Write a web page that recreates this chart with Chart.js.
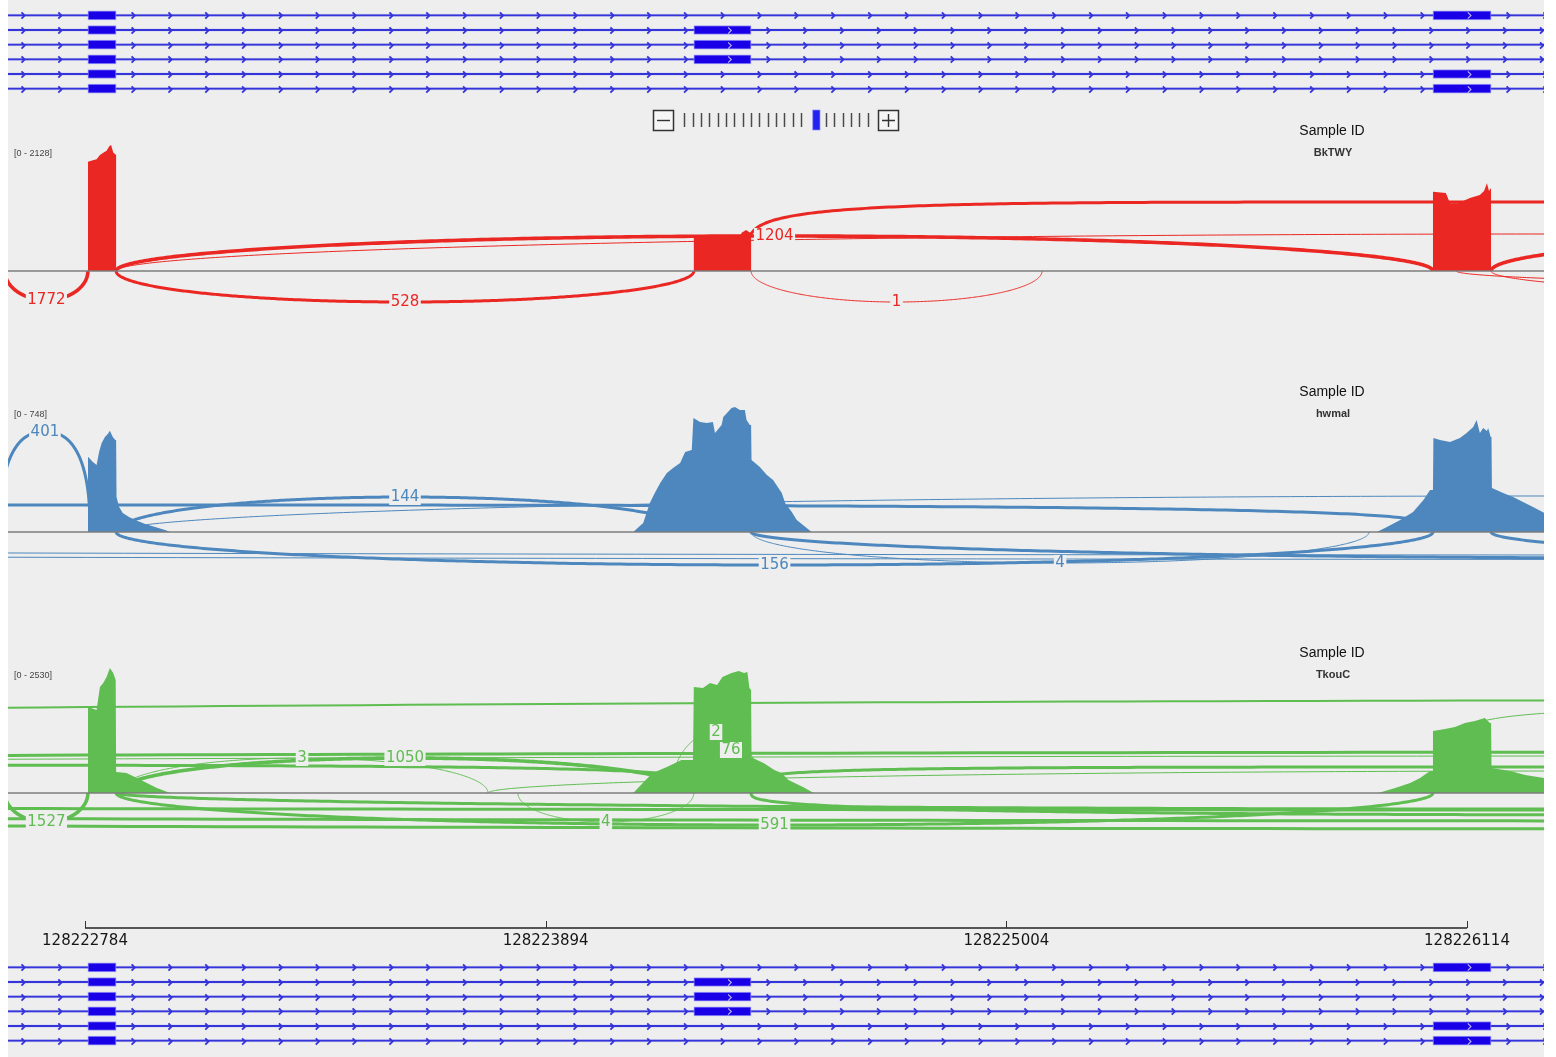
<!DOCTYPE html>
<html>
<head>
<meta charset="utf-8">
<title>Sashimi plot</title>
<script src="https://cdn.jsdelivr.net/npm/chart.js@4.4.1/dist/chart.umd.min.js"></script>
<style>
  html, body { margin: 0; padding: 0; background: #ffffff; }
  #stage { position: absolute; left: 8px; top: 0; width: 1536px; height: 1057px; background: #edeeed; overflow: hidden; }
  #stage canvas { position: absolute; left: 0; }
</style>
</head>
<body>
<div id="stage">
  <canvas id="txTop" width="1536" height="88" style="top:8px"></canvas>
  <canvas id="panel0" width="1536" height="240" style="top:100px"></canvas>
  <canvas id="panel1" width="1536" height="260" style="top:340px"></canvas>
  <canvas id="panel2" width="1536" height="300" style="top:600px"></canvas>
  <canvas id="axis" width="1536" height="60" style="top:900px"></canvas>
  <canvas id="txBottom" width="1536" height="88" style="top:960px"></canvas>
</div>
<script>
// ---------- genomic window and ruler ----------
const VIEW_START = 128222598.5;
const VIEW_END = 128226299.5;
const axisTicks = [128222784, 128223894, 128225004, 128226114];

// ---------- annotation: exons and the transcripts that use them ----------
const exonStart = [128222791, 128224251, 128226032];
const exonEnd   = [128222859, 128224389, 128226172];
const transcriptExons = [[0, 2], [0, 1], [0, 1], [0, 1], [0, 2], [0, 2]];

// ---------- samples ----------
const sampleIds = ['BkTWY', 'hwmal', 'TkouC'];
const rangeMax = [2128, 748, 2530];

// coverage, sample BkTWY
const covPosBkTWY = [
  128222791,128222791,128222801,128222812,128222820,128222828,128222836,128222843,128222847,128222852,128222859,128222859,
  128224251,128224251,128224314,128224362,128224367,128224377,128224384,128224389,128224389,
  128226032,128226032,128226063,128226073,128226092,128226121,128226145,128226155,128226162,128226167,128226172,128226172];
const covDepthBkTWY = [
  0,1846,1866,1886,1959,1998,2032,2111,2128,2000,1959,0,
  0,580,585,595,650,692,660,640,0,
  0,1339,1317,1143,1143,1233,1283,1351,1481,1351,1402,0];

// coverage, sample hwmal
const covPosHwmal = [
  128222791,128222791,128222803,128222812,128222818,128222824,128222832,128222839,128222844,128222851,128222857,128222859,128222860,128222866,128222875,128222890,128222905,128222929,128222953,128222977,128222989,
  128224105,128224129,128224145,128224157,128224170,128224186,128224201,128224218,128224230,128224246,128224250,128224266,128224282,128224297,128224302,128224318,128224322,128224342,128224350,128224362,128224374,128224378,128224386,128224389,128224390,128224410,128224427,128224442,128224463,128224471,128224487,128224499,128224514,128224535,
  128225897,128225921,128225953,128225984,128226009,128226025,128226032,128226033,128226049,128226073,128226097,128226113,128226129,128226137,128226145,128226153,128226162,128226165,128226171,128226173,128226174,128226201,128226225,128226249,128226273,128226300,128226330];
const covDepthHwmal = [
  0,447,416,398,475,527,564,582,601,564,546,546,208,150,113,89,71,47,30,12,0,
  0,53,172,232,291,350,380,410,475,487,677,653,647,653,588,635,683,736,742,724,724,665,635,635,427,386,338,309,232,172,119,71,42,0,
  0,30,71,119,190,249,249,558,546,534,558,588,623,665,588,617,600,617,564,564,261,232,208,178,148,113,90];

// coverage, sample TkouC
const covPosTkouC = [
  128222791,128222791,128222812,128222820,128222828,128222836,128222844,128222852,128222858,128222859,128222861,128222884,128222909,128222933,128222957,128222989,
  128224105,128224135,128224152,128224186,128224221,128224249,128224251,128224273,128224290,128224307,128224320,128224342,128224359,128224372,128224380,128224385,128224389,128224390,128224393,128224419,128224445,128224462,128224479,128224514,128224540,
  128225900,128225941,128225977,128226001,128226025,128226031,128226032,128226061,128226085,128226109,128226133,128226157,128226169,128226172,128226173,128226218,128226254,128226300,128226330];
const covDepthTkouC = [
  0,1727,1667,2128,2209,2329,2510,2410,2269,422,422,402,301,201,100,0,
  0,261,402,522,663,663,2128,2108,2209,2169,2329,2410,2450,2410,2430,2108,2068,703,703,602,462,402,261,120,0,
  0,100,201,301,442,442,1245,1285,1325,1406,1446,1506,1406,1406,502,442,361,301,280];

// splice junctions (donor, acceptor, read count)
const juncStartBkTWY = [128222591,128222859,128224389,128222859,128222859,128224380,128226172,128226088,128226172];
const juncEndBkTWY   = [128222791,128224251,128225090,128226032,128229808,128228844,128228362,128231013,128229808];
const juncCountBkTWY = [1772,528,1,1204,3,900,1000,2,2];

const juncStartHwmal = [128222579,128222859,128218483,128222859,128226172,128222859,128224389,128224389,128226172,128216555,128215350];
const juncEndHwmal   = [128222796,128224251,128226032,128229808,128228844,128226032,128225878,128228844,128229808,128237037,128239446];
const juncCountHwmal = [401,144,250,5,150,156,4,300,200,3,2];

const juncStartTkouC = [128222591,128222859,128222859,128223755,128215350,128215350,128216555,128216555,128224389,128222859,128223827,128215350,128215350,128222859,128224389,128216555,128224196,128224266,128226073];
const juncEndTkouC   = [128222791,128224251,128223755,128229085,128239446,128239446,128237037,128224251,128229808,128226032,128224251,128239446,128239446,128229808,128229808,128237037,128224413,128224415,128230290];
const juncCountTkouC = [1527,1050,3,2,60,800,4,500,500,591,4,700,900,500,400,300,2,76,5];

// arc drawing layout: side (+1 above the axis, -1 below), apex lift in px, curve squareness
const arcSideBkTWY  = [-1,-1,-1, 1, 1, 1, 1,-1,-1];
const arcLiftBkTWY  = [29,31,31,35,37,69,35,18,30];
const arcShapeBkTWY = [2,2,2,2,2,6,2,2,2];

const arcSideHwmal  = [1,1,1,1,1,-1,-1,-1,-1,-1,-1];
const arcLiftHwmal  = [100,35,27,36,30,33,31,26,28,23,27.5];
const arcShapeHwmal = [2.5,2,4,2,2,2,2,2,2,2,2];

const arcSideTkouC  = [-1,1,1,1,1,1,1,1,1,-1,-1,-1,-1,-1,-1,-1,1,1,1];
const arcLiftTkouC  = [29,35,35,22,93,41,37,28,26,32,29,28,36,16,22,17,61,43,85];
const arcShapeTkouC = [2,2,2,2,2,2,2,6,6,2,2,2,2,2,3,2,2,2,8];

// ---------- styling ----------
const PANEL_BG = '#edeeed';
const sampleColors = ['#eb2723', '#4d87bd', '#5fbd51'];
const EXON_COLOR = '#1a00e6';
const INTRON_COLOR = '#3434d8';
const COVERAGE_PX = 126;            // height of the full data range
const panelLayout = [
  { canvas: 'panel0', top: 100, height: 240, base: 271 },
  { canvas: 'panel1', top: 340, height: 260, base: 532 },
  { canvas: 'panel2', top: 600, height: 300, base: 793 }
];

const samples = [
  { pos: covPosBkTWY, depth: covDepthBkTWY, js: juncStartBkTWY, je: juncEndBkTWY, jc: juncCountBkTWY, side: arcSideBkTWY, lift: arcLiftBkTWY, shape: arcShapeBkTWY },
  { pos: covPosHwmal, depth: covDepthHwmal, js: juncStartHwmal, je: juncEndHwmal, jc: juncCountHwmal, side: arcSideHwmal, lift: arcLiftHwmal, shape: arcShapeHwmal },
  { pos: covPosTkouC, depth: covDepthTkouC, js: juncStartTkouC, je: juncEndTkouC, jc: juncCountTkouC, side: arcSideTkouC, lift: arcLiftTkouC, shape: arcShapeTkouC }
];

const baseOptions = {
  responsive: false,
  animation: false,
  events: [],
  layout: { padding: 0 },
  plugins: { legend: { display: false }, tooltip: { enabled: false } }
};

function chevron(ctx, cx, cy, color, w) {
  ctx.strokeStyle = color;
  ctx.lineWidth = w;
  ctx.beginPath();
  ctx.moveTo(cx - 1.8, cy - 3.2);
  ctx.lineTo(cx + 1.4, cy);
  ctx.lineTo(cx - 1.8, cy + 3.2);
  ctx.stroke();
}

// ---------- transcript tracks ----------
const strandPlugin = {
  id: 'strandMarks',
  afterDatasetsDraw(chart) {
    const { ctx, chartArea: a, scales: { x, y } } = chart;
    ctx.save();
    ctx.beginPath(); ctx.rect(a.left, a.top, a.width, a.height); ctx.clip();
    transcriptExons.forEach((exons, r) => {
      const cy = Math.round(y.getPixelForValue(r)) + 0.5;
      const spans = exons.map(e => [x.getPixelForValue(exonStart[e]), x.getPixelForValue(exonEnd[e])]).sort((p, q) => p[0] - q[0]);
      const segs = [];
      let s0 = a.left - 2;
      spans.forEach(s => { segs.push([s0, s[0]]); s0 = s[1]; });
      segs.push([s0, a.right + 40]);
      segs.forEach(([p0, p1]) => {
        for (let cx = p0 + 17.3; cx < p1 - 4; cx += 36.83) chevron(ctx, cx, cy, INTRON_COLOR, 1.8);
      });
      exons.forEach(e => {
        if (e === 0) return;
        const x0 = x.getPixelForValue(exonStart[e]), x1 = x.getPixelForValue(exonEnd[e]);
        chevron(ctx, x0 + (x1 - x0) * 0.63, cy, 'rgba(255,255,255,0.7)', 1.1);
      });
    });
    ctx.restore();
  }
};

function transcriptChart(id) {
  const rows = transcriptExons.map((_, i) => 'T' + (i + 1));
  const exonSets = exonStart.map((s, e) => ({
    data: transcriptExons.map(list => list.includes(e) ? [exonStart[e], exonEnd[e]] : null),
    backgroundColor: EXON_COLOR,
    borderColor: 'rgba(140,140,255,0.85)',
    borderWidth: 1,
    borderSkipped: false,
    barThickness: 9,
    grouped: false,
    order: 0
  }));
  const intronSet = {
    data: transcriptExons.map(() => [VIEW_START - 500, VIEW_END + 500]),
    backgroundColor: INTRON_COLOR,
    borderColor: 'rgba(120,120,240,0.45)',
    borderWidth: 0.6,
    borderSkipped: false,
    barThickness: 2.4,
    grouped: false,
    order: 1
  };
  return new Chart(document.getElementById(id), {
    type: 'bar',
    data: { labels: rows, datasets: [...exonSets, intronSet] },
    options: {
      ...baseOptions,
      indexAxis: 'y',
      scales: {
        x: { type: 'linear', min: VIEW_START, max: VIEW_END, display: false },
        y: { type: 'category', display: false, offset: true }
      }
    },
    plugins: [strandPlugin]
  });
}

// ---------- sashimi panels ----------
function arcPath(ctx, x1, x2, base, dir, lift, n) {
  const N = 320;
  ctx.beginPath();
  for (let k = 0; k <= N; k++) {
    const u = (1 - Math.cos(Math.PI * k / N)) / 2;
    const px = x1 + (x2 - x1) * u;
    const h = lift * Math.pow(Math.max(0, 1 - Math.pow(Math.abs(2 * u - 1), n)), 1 / n);
    const py = base - dir * h;
    if (k === 0) ctx.moveTo(px, py); else ctx.lineTo(px, py);
  }
  ctx.stroke();
}

function arcWidth(count) {
  if (count >= 1000) return 3.6;
  if (count >= 100) return 3;
  return count >= 50 ? 2 : 1;
}

function sashimiPlugin(idx) {
  const s = samples[idx];
  const color = sampleColors[idx];
  return {
    id: 'sashimi' + idx,
    beforeDatasetsDraw(chart) {
      const { ctx, chartArea: a, scales: { x, y } } = chart;
      const base = y.getPixelForValue(0);
      ctx.save();
      ctx.beginPath(); ctx.rect(a.left, a.top, a.width, a.height); ctx.clip();
      ctx.strokeStyle = color;
      ctx.lineJoin = 'round';
      s.js.forEach((st, i) => {
        ctx.lineWidth = arcWidth(s.jc[i]);
        arcPath(ctx, x.getPixelForValue(st), x.getPixelForValue(s.je[i]), base, s.side[i], s.lift[i], s.shape[i]);
      });
      ctx.restore();
    },
    afterDatasetsDraw(chart) {
      const { ctx, chartArea: a, scales: { x, y } } = chart;
      const base = y.getPixelForValue(0);
      ctx.save();
      // zero line
      ctx.strokeStyle = '#7d7d7d';
      ctx.lineWidth = 1.5;
      ctx.beginPath(); ctx.moveTo(a.left, base); ctx.lineTo(a.right, base); ctx.stroke();
      // junction read counts at the arc apex
      ctx.font = '15px "DejaVu Sans", sans-serif';
      ctx.textAlign = 'center';
      ctx.textBaseline = 'middle';
      s.js.forEach((st, i) => {
        const mx = (x.getPixelForValue(st) + x.getPixelForValue(s.je[i])) / 2;
        if (mx < a.left + 4 || mx > a.right - 4) return;
        const ly = base - s.side[i] * s.lift[i];
        const txt = String(s.jc[i]);
        const w = ctx.measureText(txt).width;
        ctx.fillStyle = PANEL_BG;
        ctx.fillRect(mx - w / 2 - 1.5, ly - 8, w + 3, 16);
        ctx.fillStyle = color;
        ctx.fillText(txt, mx, ly + 0.5);
      });
      ctx.restore();
    },
    afterDraw(chart) {
      const { ctx, scales: { y } } = chart;
      const base = y.getPixelForValue(0);
      ctx.save();
      ctx.textBaseline = 'middle';
      ctx.textAlign = 'center';
      ctx.fillStyle = '#111';
      ctx.font = '14px "Liberation Sans", Arial, sans-serif';
      ctx.fillText('Sample ID', 1324, base - 140);
      ctx.fillStyle = '#333';
      ctx.font = 'bold 11px "Liberation Sans", Arial, sans-serif';
      ctx.fillText(sampleIds[idx], 1325, base - 118);
      ctx.textAlign = 'left';
      ctx.fillStyle = '#444';
      ctx.font = '9px "Liberation Sans", Arial, sans-serif';
      ctx.fillText('[0 - ' + rangeMax[idx] + ']', 6, base - 117);
      ctx.restore();
    }
  };
}

// zoom slider shown above the first panel
const zoomWidget = {
  id: 'zoomWidget',
  afterDraw(chart) {
    const ctx = chart.ctx;
    ctx.save();
    const box = (x0, sign) => {
      ctx.fillStyle = '#f6f6f6';
      ctx.fillRect(x0, 10, 20, 20);
      ctx.strokeStyle = '#333';
      ctx.lineWidth = 1.5;
      ctx.strokeRect(x0 + 0.5, 10.5, 20, 20);
      ctx.lineWidth = 1.4;
      ctx.beginPath();
      ctx.moveTo(x0 + 4, 20.5); ctx.lineTo(x0 + 17, 20.5);
      if (sign) { ctx.moveTo(x0 + 10.5, 14); ctx.lineTo(x0 + 10.5, 27); }
      ctx.stroke();
    };
    box(645, false);
    box(870, true);
    ctx.strokeStyle = '#4a4a4a';
    ctx.lineWidth = 1.5;
    for (let i = 0; i <= 22; i++) {
      if (i === 15 || i === 16) continue;
      const tx = Math.round(676.3 + 8.33 * i) + 0.5;
      ctx.beginPath(); ctx.moveTo(tx, 13); ctx.lineTo(tx, 27); ctx.stroke();
    }
    ctx.fillStyle = '#2323ee';
    ctx.fillRect(804.7, 10, 7.3, 20);
    ctx.strokeStyle = 'rgba(150,150,255,0.7)';
    ctx.lineWidth = 1;
    ctx.strokeRect(804.7, 10, 7.3, 20);
    ctx.restore();
  }
};

function sashimiChart(idx) {
  const lay = panelLayout[idx];
  const s = samples[idx];
  const unitPerPx = rangeMax[idx] / COVERAGE_PX;
  const yMax = (lay.base - lay.top) * unitPerPx;
  const yMin = -(lay.top + lay.height - lay.base) * unitPerPx;
  const plugins = [sashimiPlugin(idx)];
  if (idx === 0) plugins.push(zoomWidget);
  return new Chart(document.getElementById(lay.canvas), {
    type: 'line',
    data: {
      datasets: [{
        data: s.pos.map((p, i) => ({ x: p, y: s.depth[i] })),
        fill: 'origin',
        backgroundColor: sampleColors[idx],
        borderWidth: 0,
        pointRadius: 0,
        tension: 0
      }]
    },
    options: {
      ...baseOptions,
      scales: {
        x: { type: 'linear', min: VIEW_START, max: VIEW_END, display: false },
        y: { type: 'linear', min: yMin, max: yMax, display: false }
      }
    },
    plugins
  });
}

// ---------- genomic ruler ----------
const rulerPlugin = {
  id: 'ruler',
  afterDraw(chart) {
    const { ctx, scales: { x } } = chart;
    const px = axisTicks.map(v => x.getPixelForValue(v));
    ctx.save();
    ctx.strokeStyle = '#555';
    ctx.lineWidth = 2;
    ctx.beginPath(); ctx.moveTo(px[0], 28); ctx.lineTo(px[px.length - 1], 28); ctx.stroke();
    ctx.strokeStyle = '#333';
    ctx.lineWidth = 1;
    px.forEach(p => {
      const q = Math.round(p) + 0.5;
      ctx.beginPath(); ctx.moveTo(q, 21); ctx.lineTo(q, 28); ctx.stroke();
    });
    ctx.fillStyle = '#161616';
    ctx.font = '15px "DejaVu Sans", sans-serif';
    ctx.textAlign = 'center';
    ctx.textBaseline = 'middle';
    axisTicks.forEach((v, i) => ctx.fillText(String(v), px[i], 41));
    ctx.restore();
  }
};

function rulerChart() {
  return new Chart(document.getElementById('axis'), {
    type: 'line',
    data: { datasets: [{ data: [] }] },
    options: {
      ...baseOptions,
      scales: {
        x: { type: 'linear', min: VIEW_START, max: VIEW_END, display: false },
        y: { type: 'linear', min: 0, max: 1, display: false }
      }
    },
    plugins: [rulerPlugin]
  });
}

transcriptChart('txTop');
sashimiChart(0);
sashimiChart(1);
sashimiChart(2);
rulerChart();
transcriptChart('txBottom');
</script>
</body>
</html>
